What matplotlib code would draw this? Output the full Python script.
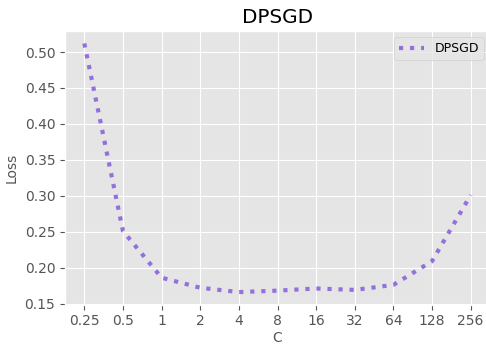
import matplotlib
matplotlib.use('Agg')
import matplotlib.pyplot as plt

plt.style.use('ggplot')

C_LABELS = ['0.25', '0.5', '1', '2', '4', '8', '16', '32', '64', '128', '256']
LOSS = [0.512, 0.251, 0.186, 0.172, 0.166, 0.168, 0.171, 0.169, 0.176, 0.209, 0.301]


def plot_loss():
    f = plt.figure(figsize=(4.86, 3.45), dpi=100)
    ax = f.add_axes([65 / 486, 1 - 304.5 / 345, 425 / 486, (304.5 - 31) / 345])
    x_range = list(range(len(C_LABELS)))
    ax.plot(x_range, LOSS, ':', color='mediumpurple', linewidth=3, label='DPSGD')
    ax.set_xticks(x_range)
    ax.set_xticklabels(C_LABELS)
    ax.set_xlabel('C', fontsize=10, labelpad=2)
    ax.set_ylabel('Loss', fontsize=10)
    ax.set_title('DPSGD')
    ax.legend(loc='upper right', fontsize=9)
    f.savefig('out.png', dpi=100)


if __name__ == '__main__':
    plot_loss()
